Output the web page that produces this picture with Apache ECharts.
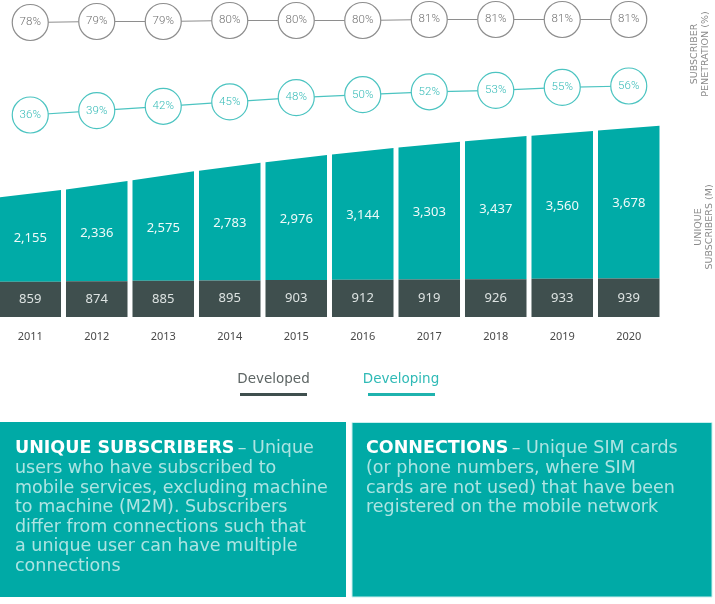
<!DOCTYPE html>
<html>
<head>
<meta charset="utf-8">
<script src="https://cdn.jsdelivr.net/npm/echarts@6.0.0/dist/echarts.min.js"></script>
<style>
  html, body { margin: 0; padding: 0; background: #fff; }
  #chart { width: 715px; height: 604px; }
</style>
</head>
<body>
<div id="chart"></div>
<script>
// data
var years = ['2011', '2012', '2013', '2014', '2015', '2016', '2017', '2018', '2019', '2020'];
var developed = [859, 874, 885, 895, 903, 912, 919, 926, 933, 939];
var developing = [2155, 2336, 2575, 2783, 2976, 3144, 3303, 3437, 3560, 3678];
var penDeveloped = [78, 79, 79, 80, 80, 80, 81, 81, 81, 81];
var penDeveloping = [36, 39, 42, 45, 48, 50, 52, 53, 55, 56];

var TEAL = '#00aba7';
var DARK = '#3f4f4e';
var GREY = '#8e8e8e';
var CYAN = '#4cc4c1';
var condensed = "'Roboto', sans-serif";
var sans = "'Noto Sans', 'Open Sans', sans-serif";
var wide = "'DejaVu Sans', sans-serif";

function fmt(v) {
    return v.toLocaleString('en-US');
}
function total(k) {
    return developed[k] + developing[k];
}

// developing part: top edge follows the line through the totals
function renderDeveloping(params, api) {
    var i = api.value(0);
    var n = years.length;
    var c = api.coord([i, total(i)]);
    var base = api.coord([i, developed[i]]);
    var half = api.size([1, 0])[0] * 0.925 / 2;
    var prev = i > 0 ? api.coord([i - 1, total(i - 1)]) : null;
    var next = i < n - 1 ? api.coord([i + 1, total(i + 1)]) : null;
    var sR = next ? (next[1] - c[1]) / (next[0] - c[0]) : (c[1] - prev[1]) / (c[0] - prev[0]);
    var sL = prev ? (c[1] - prev[1]) / (c[0] - prev[0]) : sR;
    var yL = c[1] - sL * half;
    var yR = c[1] + sR * half;
    return {
        type: 'group',
        children: [
            {
                type: 'polygon',
                shape: { points: [[c[0] - half, base[1]], [c[0] - half, yL], [c[0] + half, yR], [c[0] + half, base[1]]] },
                style: { fill: TEAL }
            },
            {
                type: 'text',
                x: c[0],
                y: (base[1] + c[1]) / 2,
                style: {
                    text: fmt(developing[i]),
                    fill: '#eefaf9',
                    fontSize: 13,
                    fontFamily: sans,
                    align: 'center',
                    verticalAlign: 'middle'
                }
            }
        ]
    };
}

var chart = echarts.init(document.getElementById('chart'), null, { renderer: 'canvas' });

var gridPos = { left: -3, right: 53, outerBoundsMode: 'none' };

var option = {
    animation: false,
    grid: [
        Object.assign({ top: 112.5, bottom: 287 }, gridPos),
        Object.assign({ top: 19.5, height: 3 }, gridPos),
        Object.assign({ top: 86, height: 29 }, gridPos)
    ],
    xAxis: [
        {
            type: 'category', gridIndex: 0, data: years,
            axisLine: { show: false }, axisTick: { show: false },
            axisLabel: { margin: 14, color: '#4a4a4a', fontSize: 11, fontFamily: sans }
        },
        { type: 'category', gridIndex: 1, data: years, show: false },
        { type: 'category', gridIndex: 2, data: years, show: false }
    ],
    yAxis: [
        { type: 'value', gridIndex: 0, min: 0, max: 5000, show: false },
        { type: 'value', gridIndex: 1, min: 78, max: 81, show: false },
        { type: 'value', gridIndex: 2, min: 36, max: 56, show: false }
    ],
    series: [
        {
            name: 'Developed',
            type: 'bar',
            xAxisIndex: 0, yAxisIndex: 0,
            data: developed,
            barWidth: '92.5%',
            itemStyle: { color: DARK },
            label: {
                show: true, position: 'inside',
                color: '#dde3e2', fontSize: 13, fontFamily: sans,
                formatter: function (p) { return fmt(p.value); }
            }
        },
        {
            name: 'Developing',
            type: 'custom',
            xAxisIndex: 0, yAxisIndex: 0,
            renderItem: renderDeveloping,
            encode: { x: 0, y: 1 },
            data: years.map(function (y, i) { return [i, total(i)]; })
        },
        {
            name: 'Developed penetration',
            type: 'line',
            xAxisIndex: 1, yAxisIndex: 1,
            data: penDeveloped,
            clip: false,
            symbol: 'circle', symbolSize: 36,
            lineStyle: { color: GREY, width: 1.2 },
            itemStyle: { color: '#fff', borderColor: GREY, borderWidth: 1.2 },
            label: {
                show: true, position: 'inside', formatter: '{c}%',
                color: '#707070', fontSize: 11.5, fontWeight: 300, fontFamily: condensed
            }
        },
        {
            name: 'Developing penetration',
            type: 'line',
            xAxisIndex: 2, yAxisIndex: 2,
            data: penDeveloping,
            clip: false,
            symbol: 'circle', symbolSize: 36,
            lineStyle: { color: CYAN, width: 1.2 },
            itemStyle: { color: '#fff', borderColor: CYAN, borderWidth: 1.2 },
            label: {
                show: true, position: 'inside', formatter: '{c}%',
                color: '#35bbb7', fontSize: 11.5, fontWeight: 300, fontFamily: condensed
            }
        }
    ],
    graphic: [
        // right-hand axis titles
        {
            type: 'text', x: 700, y: 54, rotation: Math.PI / 2,
            style: {
                text: 'SUBSCRIBER\nPENETRATION (%)', fill: '#8a8a8a',
                fontSize: 9.5, fontFamily: wide, align: 'center', verticalAlign: 'middle', lineHeight: 11
            }
        },
        {
            type: 'text', x: 704, y: 227, rotation: Math.PI / 2,
            style: {
                text: 'UNIQUE\nSUBSCRIBERS (M)', fill: '#8a8a8a',
                fontSize: 9.5, fontFamily: wide, align: 'center', verticalAlign: 'middle', lineHeight: 11
            }
        },
        // legend
        {
            type: 'text', x: 273.5, y: 379,
            style: { text: 'Developed', fill: '#5d6564', fontSize: 13.5, fontFamily: wide, align: 'center', verticalAlign: 'middle' }
        },
        { type: 'rect', shape: { x: 240, y: 393, width: 67, height: 3 }, style: { fill: DARK } },
        {
            type: 'text', x: 401, y: 379,
            style: { text: 'Developing', fill: '#2fbab6', fontSize: 13.5, fontFamily: wide, align: 'center', verticalAlign: 'middle' }
        },
        { type: 'rect', shape: { x: 368, y: 393, width: 67, height: 3 }, style: { fill: '#1fb3ae' } },
        // definition boxes
        { type: 'rect', shape: { x: 0, y: 422, width: 346, height: 175 }, style: { fill: '#00aaa6' } },
        { type: 'rect', shape: { x: 352, y: 422.5, width: 360, height: 174.5 }, style: { fill: '#00aaa6', stroke: '#c9efee', lineWidth: 1 } },
        {
            type: 'text', x: 15, y: 439,
            style: {
                text: '{b|UNIQUE SUBSCRIBERS} {n|– Unique}\n{n|users who have subscribed to}\n{n|mobile services, excluding machine}\n{n|to machine (M2M). Subscribers}\n{n|differ from connections such that}\n{n|a unique user can have multiple}\n{n|connections}',
                rich: {
                    b: { fill: '#ffffff', fontSize: 17.5, fontWeight: 'bold', fontFamily: wide, lineHeight: 19.6 },
                    n: { fill: 'rgba(255,255,255,0.68)', fontSize: 17.5, fontFamily: wide, lineHeight: 19.6 }
                }
            }
        },
        {
            type: 'text', x: 366, y: 439,
            style: {
                text: '{b|CONNECTIONS} {n|– Unique SIM cards}\n{n|(or phone numbers, where SIM}\n{n|cards are not used) that have been}\n{n|registered on the mobile network}',
                rich: {
                    b: { fill: '#ffffff', fontSize: 17.5, fontWeight: 'bold', fontFamily: wide, lineHeight: 19.6 },
                    n: { fill: 'rgba(255,255,255,0.68)', fontSize: 17.5, fontFamily: wide, lineHeight: 19.6 }
                }
            }
        }
    ]
};

chart.setOption(option);
</script>
</body>
</html>
